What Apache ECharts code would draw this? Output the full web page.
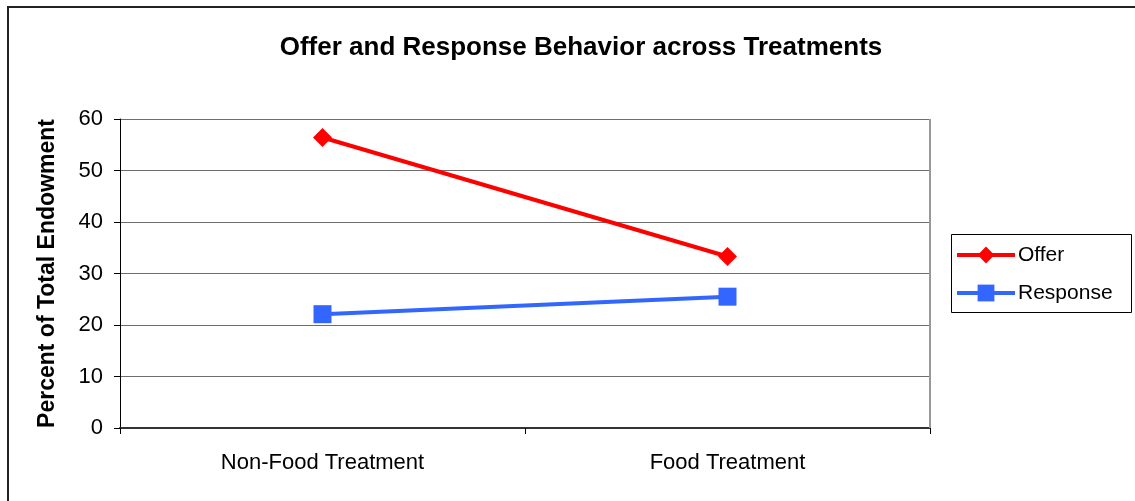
<!DOCTYPE html>
<html>
<head>
<meta charset="utf-8">
<script src="https://cdn.jsdelivr.net/npm/echarts@6/dist/echarts.min.js"></script>
<style>
  html, body { margin: 0; padding: 0; background: #fff; }
  #chart { width: 1135px; height: 501px; }
</style>
</head>
<body>
<div id="chart"></div>
<script>
// Treatment categories and mean percentages of total endowment
const categories = ['Non-Food Treatment', 'Food Treatment'];
const offerValues = [56.4, 33.3];
const responseValues = [22.1, 25.5];
const yTicks = { min: 0, max: 60, interval: 10 };

const FONT = 'Liberation Sans, Arial, sans-serif';
const chart = echarts.init(document.getElementById('chart'), null, { renderer: 'canvas' });

chart.setOption({
  animation: false,
  backgroundColor: '#fff',
  title: {
    text: 'Offer and Response Behavior across Treatments',
    left: 576, top: 30, textAlign: 'center',
    textStyle: { fontFamily: FONT, fontWeight: 'bold', fontSize: 26, color: '#000' }
  },
  graphic: [
    // outer chart frame
    { type: 'rect', shape: { x: 8, y: 7, width: 1200, height: 600 },
      style: { fill: 'none', stroke: '#222', lineWidth: 2 }, silent: true },
    // plot area right edge
    { type: 'line', shape: { x1: 930, y1: 119, x2: 930, y2: 428 },
      style: { stroke: '#999', lineWidth: 2 }, z: 5, silent: true },
    // legend frame
    { type: 'rect', shape: { x: 951.5, y: 234.5, width: 180, height: 78 },
      style: { fill: 'none', stroke: '#000', lineWidth: 1 }, silent: true }
  ],
  legend: {
    orient: 'vertical',
    left: 951, top: 234,
    padding: [10, 4, 9, 4],
    itemGap: 16,
    itemWidth: 58, itemHeight: 21,
    lineStyle: { width: 4 },
    textStyle: { fontFamily: FONT, fontSize: 21, lineHeight: 22, color: '#000', padding: [0, 0, 0, -2] },
    data: ['Offer', 'Response']
  },
  grid: { left: 120, top: 119, width: 810, height: 309, containLabel: false },
  xAxis: {
    type: 'category',
    data: categories,
    boundaryGap: true,
    axisLine: { lineStyle: { color: '#333', width: 2 } },
    axisTick: { show: true, length: 6, lineStyle: { color: '#000', width: 1 } },
    axisLabel: { fontFamily: FONT, fontSize: 22, color: '#000', margin: 24 },
    splitLine: { show: false }
  },
  yAxis: {
    type: 'value',
    min: yTicks.min, max: yTicks.max, interval: yTicks.interval,
    name: 'Percent of Total Endowment',
    nameLocation: 'middle',
    nameGap: 61,
    nameTextStyle: { fontFamily: FONT, fontWeight: 'bold', fontSize: 23, color: '#000' },
    axisLine: { show: true, lineStyle: { color: '#000', width: 1 } },
    axisTick: { show: true, length: 6, lineStyle: { color: '#000' } },
    axisLabel: { fontFamily: FONT, fontSize: 22, color: '#000', margin: 17 },
    splitLine: { show: true, lineStyle: { color: '#6e6e6e', width: 1 } }
  },
  series: [
    {
      name: 'Offer', type: 'line', data: offerValues,
      symbol: 'diamond', symbolSize: 19,
      lineStyle: { color: '#ff0000', width: 4 },
      itemStyle: { color: '#ff0000' }
    },
    {
      name: 'Response', type: 'line', data: responseValues,
      symbol: 'rect', symbolSize: 18,
      lineStyle: { color: '#3366ff', width: 4 },
      itemStyle: { color: '#3366ff' }
    }
  ]
});
</script>
</body>
</html>
